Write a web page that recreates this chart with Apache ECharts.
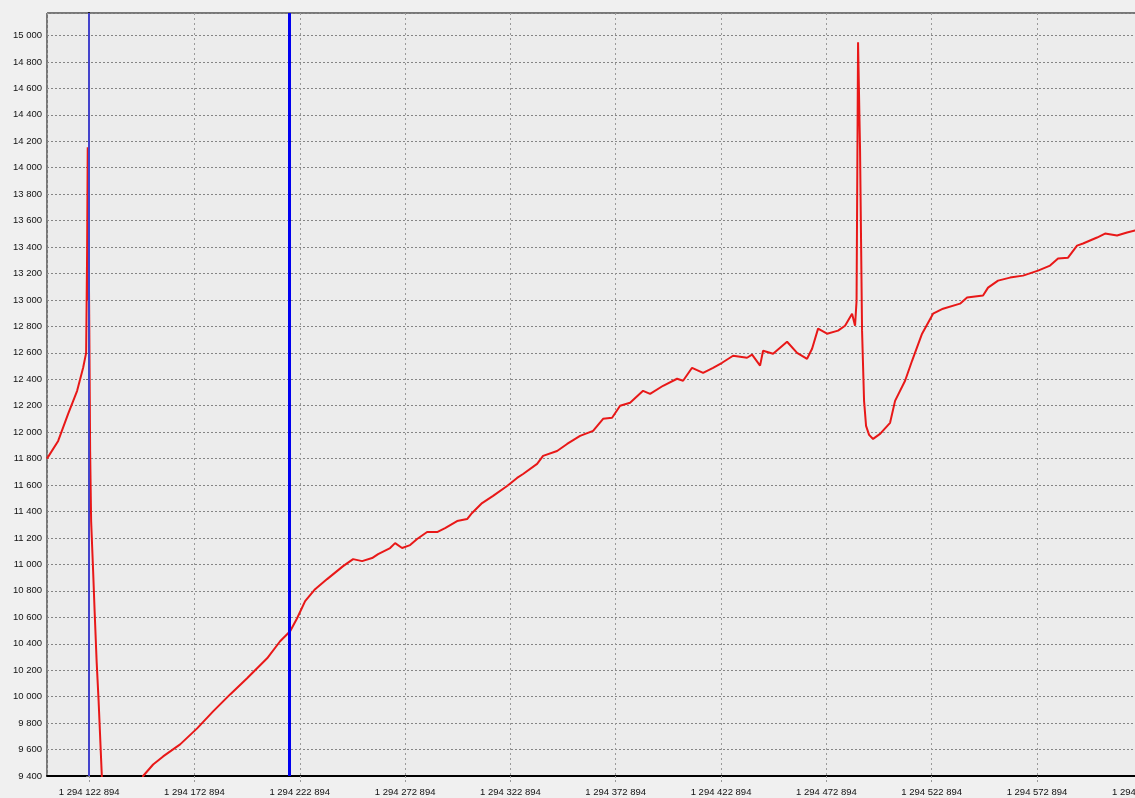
<!DOCTYPE html>
<html>
<head>
<meta charset="utf-8">
<script src="https://cdn.jsdelivr.net/npm/echarts@6/dist/echarts.min.js"></script>
<style>
html,body{margin:0;padding:0;background:#f0f0f0;}
#chart{width:1135px;height:798px;}
</style>
</head>
<body>
<div id="chart"></div>
<script>
// x values are offsets (seconds) from X_BASE
const X_BASE = 1294122894;
const xOffsets = [-20000,-14700,-9970,-5700,-2850,-1420,-950,-665,-430,-190,95,475,950,1900,2610,3560,4510,6030,
8070,12340,17090,21840,25630,
30380,35130,43200,51270,58860,66930,75000,84500,90670,95420,
98740,102540,107280,112980,120570,125320,129590,134340,137190,142890,
145260,148580,152380,155700,160450,165200,168990,174690,179440,181810,
186560,191780,198430,203170,206020,212670,215510,222160,226910,233080,
239250,244000,248270,252070,256810,262980,266310,272480,279120,281970,
286240,291470,296210,300490,305710,312350,314730,318520,319950,324700,
331340,336090,340830,343210,346060,350330,355550,358870,362200,363620,
364330,365040,365990,366940,367890,368840,370270,372170,375490,380240,
382610,387360,390680,395430,400650,405390,413460,416790,424380,426760,
431500,437200,443370,450490,456190,459980,464730,469000,471850,478500,
482300,487990,492740,496540,508400,524000];
const yValues = [11800,11934,12139,12313,12487,12600,13374,14154,12995,13336,12768,11858,11328,10949,10646,10267,9964,9400,
9131,8904,8828,9057,9400,
9487,9548,9639,9760,9889,10017,10139,10290,10419,10495,
10593,10722,10813,10889,10987,11040,11025,11048,11078,11124,
11161,11124,11146,11192,11245,11245,11275,11328,11343,11389,
11464,11518,11593,11654,11684,11760,11821,11858,11911,11972,
12010,12101,12109,12200,12222,12313,12290,12351,12404,12389,
12487,12449,12487,12525,12578,12563,12586,12503,12616,12593,
12684,12600,12555,12631,12783,12745,12768,12805,12896,12805,
12995,14949,14131,12768,12237,12048,11980,11949,11987,12071,
12237,12389,12540,12745,12896,12934,12972,13018,13033,13093,
13146,13169,13184,13222,13260,13313,13320,13411,13427,13472,
13502,13487,13510,13525,13540,13560];
// vertical cursor lines (offsets)
const cursorX = [0, 95000];

const X_MIN = -20000, X_MAX = 525000, X_STEP = 50000;
const Y_MIN = 9400, Y_MAX = 15170, Y_STEP = 200;

function spaced(n){ return String(Math.round(n)).replace(/\B(?=(\d{3})+(?!\d))/g, ' '); }

const seriesData = xOffsets.map((x, i) => [x, yValues[i]]);

const chart = echarts.init(document.getElementById('chart'), null, {renderer: 'canvas'});
chart.setOption({
  animation: false,
  backgroundColor: '#f0f0f0',
  grid: {
    left: 47, top: 13, right: -60, bottom: 22,
    show: true, backgroundColor: '#ececec', borderColor: '#000', borderWidth: 1,
    containLabel: false, outerBoundsMode: 'none'
  },
  xAxis: {
    type: 'value', min: X_MIN, max: X_MAX, minInterval: X_STEP, maxInterval: X_STEP, splitNumber: 11,
    axisLine: {show: true, onZero: false, lineStyle: {color: '#000', width: 2}},
    axisTick: {show: true, length: 6, lineStyle: {color: '#999', type: [2,2]}},
    axisLabel: {
      show: true, showMinLabel: false, showMaxLabel: false, margin: 11,
      fontFamily: 'Liberation Sans, Arial, sans-serif', fontSize: 9.5, color: '#111',
      formatter: v => spaced(X_BASE + v)
    },
    splitLine: {show: true, lineStyle: {color: '#9a9a9a', width: 1, type: [2,3]}}
  },
  yAxis: {
    type: 'value', min: Y_MIN, max: Y_MAX, interval: Y_STEP,
    axisLine: {show: true, lineStyle: {color: '#000', width: 2}},
    axisTick: {show: true, length: 3, lineStyle: {color: '#666'}},
    axisLabel: {
      show: true, showMaxLabel: false, margin: 5,
      fontFamily: 'Liberation Sans, Arial, sans-serif', fontSize: 9.5, color: '#111',
      formatter: v => spaced(v)
    },
    splitLine: {show: true, lineStyle: {color: '#858585', width: 1, type: [2,2]}}
  },
  series: [
    {
      type: 'line', data: [], z: 1, silent: true,
      markLine: {
        silent: true, symbol: 'none', animation: false,
        label: {show: false},
        data: [
          {xAxis: cursorX[0], lineStyle: {color: '#4444cc', width: 2, type: 'solid'}},
          {xAxis: cursorX[1], lineStyle: {color: '#0000f0', width: 3, type: 'solid'}}
        ]
      }
    },
    {
      type: 'line', data: seriesData, z: 3, showSymbol: false, clip: true,
      lineStyle: {color: '#e81818', width: 2},
      itemStyle: {color: '#e81818'}
    }
  ]
});
</script>
</body>
</html>
